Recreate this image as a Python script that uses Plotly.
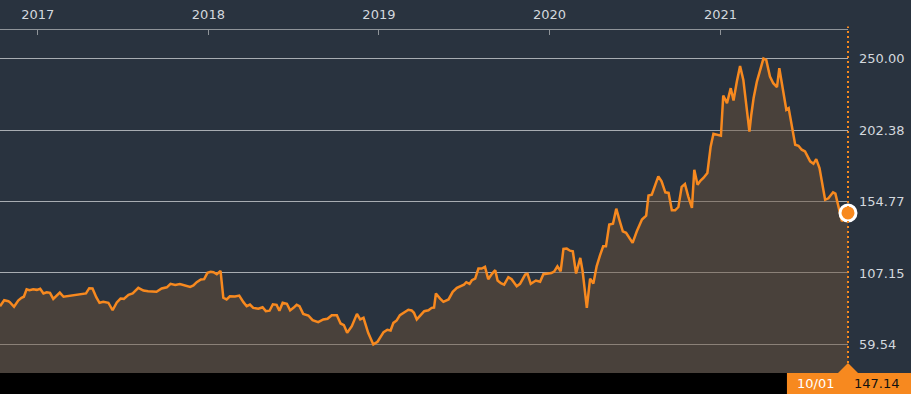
import plotly.graph_objects as go

# ---- data (weekly-ish closes) ----
dates = [
    "2016-10-12", "2016-10-21", "2016-10-30", "2016-11-02", "2016-11-11", "2016-11-20", "2016-11-27",
    "2016-12-02", "2016-12-08", "2016-12-14", "2016-12-22", "2016-12-30", "2017-01-06", "2017-01-13",
    "2017-01-20", "2017-01-27", "2017-02-03", "2017-02-10", "2017-02-17", "2017-02-25", "2017-03-11",
    "2017-04-01", "2017-04-14", "2017-04-21", "2017-04-28", "2017-05-06", "2017-05-13", "2017-05-21",
    "2017-06-01", "2017-06-10", "2017-06-19", "2017-06-27", "2017-07-04", "2017-07-14", "2017-07-23",
    "2017-08-04", "2017-08-15", "2017-08-25", "2017-09-05", "2017-09-12", "2017-09-23", "2017-10-04",
    "2017-10-12", "2017-10-22", "2017-11-01", "2017-11-12", "2017-11-23", "2017-11-30", "2017-12-07",
    "2017-12-16", "2017-12-23", "2017-12-30", "2018-01-06", "2018-01-12", "2018-01-19", "2018-01-27",
    "2018-02-02", "2018-02-09", "2018-02-16", "2018-02-27", "2018-03-08", "2018-03-17", "2018-03-24",
    "2018-03-31", "2018-04-07", "2018-04-18", "2018-04-27", "2018-05-04", "2018-05-12", "2018-05-19",
    "2018-05-27", "2018-06-02", "2018-06-09", "2018-06-18", "2018-06-25", "2018-07-02", "2018-07-09",
    "2018-07-15", "2018-07-23", "2018-08-03", "2018-08-12", "2018-08-24", "2018-09-04", "2018-09-13",
    "2018-09-22", "2018-10-03", "2018-10-11", "2018-10-18", "2018-10-25", "2018-11-04", "2018-11-15",
    "2018-11-22", "2018-11-29", "2018-12-09", "2018-12-20", "2018-12-29", "2019-01-11", "2019-01-19",
    "2019-01-26", "2019-02-01", "2019-02-08", "2019-02-15", "2019-02-26", "2019-03-05", "2019-03-12",
    "2019-03-17", "2019-03-23", "2019-03-30", "2019-04-08", "2019-04-17", "2019-04-24", "2019-04-29",
    "2019-05-03", "2019-05-12", "2019-05-19", "2019-05-30", "2019-06-08", "2019-06-17", "2019-06-25",
    "2019-07-02", "2019-07-07", "2019-07-14", "2019-07-19", "2019-07-26", "2019-08-02", "2019-08-09",
    "2019-08-16", "2019-08-23", "2019-08-31", "2019-09-07", "2019-09-12", "2019-09-19", "2019-09-26",
    "2019-10-05", "2019-10-12", "2019-10-23", "2019-10-30", "2019-11-10", "2019-11-15", "2019-11-22",
    "2019-12-03", "2019-12-12", "2019-12-19", "2019-12-26", "2020-01-05", "2020-01-11", "2020-01-18",
    "2020-01-25", "2020-01-31", "2020-02-07", "2020-02-14", "2020-02-20", "2020-02-27", "2020-03-07",
    "2020-03-12", "2020-03-21", "2020-03-28", "2020-04-04", "2020-04-11", "2020-04-18", "2020-04-25",
    "2020-05-01", "2020-05-08", "2020-05-16", "2020-05-23", "2020-05-30", "2020-06-06", "2020-06-13",
    "2020-06-22", "2020-06-27", "2020-07-06", "2020-07-17", "2020-07-26", "2020-07-31", "2020-08-07",
    "2020-08-14", "2020-08-21", "2020-08-28", "2020-09-05", "2020-09-12", "2020-09-19", "2020-09-26",
    "2020-10-03", "2020-10-10", "2020-10-17", "2020-10-24", "2020-11-01", "2020-11-06", "2020-11-13",
    "2020-11-19", "2020-11-26", "2020-12-04", "2020-12-11", "2020-12-17", "2020-12-25", "2021-01-02",
    "2021-01-07", "2021-01-15", "2021-01-23", "2021-01-29", "2021-02-05", "2021-02-12", "2021-02-19",
    "2021-02-26", "2021-03-04", "2021-03-08", "2021-03-13", "2021-03-20", "2021-03-27", "2021-04-03",
    "2021-04-09", "2021-04-13", "2021-04-17", "2021-04-24", "2021-05-02", "2021-05-07", "2021-05-14",
    "2021-05-22", "2021-05-27", "2021-06-03", "2021-06-10", "2021-06-17", "2021-06-24", "2021-07-01",
    "2021-07-12", "2021-07-19", "2021-07-25", "2021-08-01", "2021-08-07", "2021-08-13", "2021-08-20",
    "2021-08-30", "2021-09-04", "2021-09-10", "2021-09-18", "2021-10-01",
]

prices = [
    85.0, 89.0, 88.3, 87.7, 84.6, 88.8, 90.6,
    91.3, 96.3, 95.7, 96.3, 95.9, 96.6, 93.5,
    94.3, 93.9, 89.9, 92.3, 94.1, 91.3, 91.9,
    93.3, 93.5, 97.0, 96.8, 91.0, 87.3, 87.9,
    87.3, 82.3, 87.5, 90.1, 89.9, 92.6, 93.5,
    97.2, 95.4, 95.0, 95.0, 94.6, 96.8, 97.6,
    99.9, 99.2, 99.8, 98.8, 97.9, 98.8, 101.0,
    102.8, 103.0, 107.2, 107.9, 107.6, 106.3, 108.5,
    90.6, 89.5, 91.6, 91.5, 92.1, 87.7, 85.0,
    86.1, 83.9, 83.3, 84.3, 81.7, 82.0, 86.3,
    85.9, 82.0, 87.3, 86.6, 82.2, 83.9, 85.9,
    85.0, 79.9, 78.8, 75.7, 74.4, 76.2, 76.6,
    79.0, 79.0, 73.5, 72.4, 67.3, 71.7, 79.9,
    76.2, 77.3, 67.3, 59.54, 61.3, 67.7, 69.3,
    68.8, 73.9, 75.5, 79.0, 81.3, 82.6, 82.2,
    80.6, 76.2, 78.4, 81.7, 82.3, 83.9, 84.1,
    93.5, 90.1, 87.9, 89.5, 94.6, 97.2, 98.3,
    99.4, 101.0, 99.9, 102.3, 103.4, 110.1, 110.1,
    111.2, 103.0, 106.6, 109.0, 102.1, 100.3, 99.4,
    104.3, 103.0, 98.3, 99.9, 106.1, 106.6, 99.9,
    102.1, 101.3, 106.3, 106.8, 107.1, 108.1, 111.6,
    108.3, 123.2, 123.4, 122.0, 121.6, 106.8, 117.2,
    108.3, 83.9, 103.4, 100.1, 111.6, 118.7, 124.9,
    124.9, 139.4, 140.0, 150.0, 142.2, 134.9, 133.9,
    129.4, 127.2, 134.9, 142.7, 145.3, 158.7, 159.3,
    164.9, 171.5, 168.2, 160.9, 160.5, 148.9, 148.9,
    151.1, 164.5, 166.4, 158.2, 150.5, 175.9, 166.0,
    168.6, 170.6, 173.8, 191.3, 199.9, 199.2, 198.6,
    225.4, 220.3, 230.3, 222.0, 234.5, 245.1, 235.8,
    217.2, 201.4, 212.6, 223.7, 234.7, 242.5, 250.0,
    249.1, 242.5, 238.0, 233.6, 231.0, 243.6, 230.5,
    215.9, 217.0, 205.9, 192.6, 191.9, 189.3, 188.1,
    181.5, 179.9, 183.0, 177.0, 165.9, 155.9, 156.9,
    160.9, 160.0, 152.7, 141.6, 147.14,
]

year_ticks = ["2017-01-01", "2018-01-01", "2019-01-01", "2020-01-01", "2021-01-01"]
year_labels = ["2017", "2018", "2019", "2020", "2021"]

y_labels = ["59.54", "107.15", "154.77", "202.38", "250.00"]
y_ticks = [float(s) for s in y_labels]

last_date = dates[-1]
last_value = prices[-1]
last_label_date = "10/01"

# ---- styling ----
BG = "#29333f"
ORANGE = "#f7891f"
FILL = "rgba(108,81,56,0.48)"
GRID = "#a8adb2"
TEXT = "#d3d8de"
FONT = "DejaVu Sans"

fig = go.Figure()

fig.add_trace(go.Scatter(
    x=dates, y=prices, mode="lines",
    line=dict(color=ORANGE, width=2.5),
    fill="tozeroy", fillcolor=FILL,
    hoverinfo="skip", showlegend=False,
))

fig.add_trace(go.Scatter(
    x=[last_date], y=[last_value], mode="markers",
    marker=dict(size=16, color=ORANGE, line=dict(color="white", width=3)),
    cliponaxis=False, hoverinfo="skip", showlegend=False,
))

lo, hi = min(prices), max(prices)
pad = (hi - lo) * 0.1
fig.update_layout(
    width=911, height=394,
    margin=dict(l=0, r=63, t=30, b=21, autoexpand=False),
    paper_bgcolor=BG, plot_bgcolor=BG,
    font=dict(family=FONT, size=13, color=TEXT),
    xaxis=dict(
        type="date", side="top",
        range=[dates[0], last_date],
        tickvals=year_ticks, ticktext=year_labels,
        ticks="inside", ticklen=5, tickwidth=1, tickcolor="#8f9499",
        showline=True, linecolor="#8f9499", linewidth=1,
        showgrid=False, zeroline=False,
        ticklabelstandoff=5,
        tickfont=dict(family=FONT, size=13, color=TEXT),
    ),
    yaxis=dict(
        side="right",
        range=[lo - pad, hi + pad],
        tickvals=y_ticks, ticktext=y_labels,
        showgrid=True, gridcolor=GRID, gridwidth=1,
        zeroline=False, showline=False, ticks="",
        ticklabelstandoff=10,
        tickfont=dict(family=FONT, size=13, color=TEXT),
    ),
    hovermode=False,
)

# dotted vertical line at latest date (right edge of plot area)
fig.add_shape(type="line", xref="paper", yref="paper",
              x0=1, x1=1, y0=0, y1=1.01,
              line=dict(color=ORANGE, width=2, dash="2px,3px"), layer="above")

# black strip at bottom
fig.add_shape(type="rect", xref="paper", yref="paper",
              x0=0, x1=1.0745, y0=-0.0615, y1=0,
              fillcolor="black", line=dict(width=0), layer="above")

# orange label box
fig.add_shape(type="rect", xref="paper", yref="paper",
              x0=0.928, x1=1.0745, y0=-0.0615, y1=0,
              fillcolor=ORANGE, line=dict(width=0), layer="above")
fig.add_shape(type="path", xref="paper", yref="paper",
              path="M 0.9882,0 L 1.0118,0 L 1,0.029 Z",
              fillcolor=ORANGE, line=dict(width=0), layer="above")

fig.add_annotation(xref="paper", yref="paper", x=0.9375, y=-0.032,
                   xanchor="left", yanchor="middle", showarrow=False,
                   text=last_label_date,
                   font=dict(family=FONT, size=13, color="white"))
fig.add_annotation(xref="paper", yref="paper", x=1.0047, y=-0.032,
                   xanchor="left", yanchor="middle", showarrow=False,
                   text=f"{last_value:.2f}",
                   font=dict(family=FONT, size=13, color="#111111"))

fig.write_html(
    "out.html",
    config={"displayModeBar": False, "staticPlot": True},
    post_script="document.body.style.margin='0';document.body.style.overflow='hidden';",
)
